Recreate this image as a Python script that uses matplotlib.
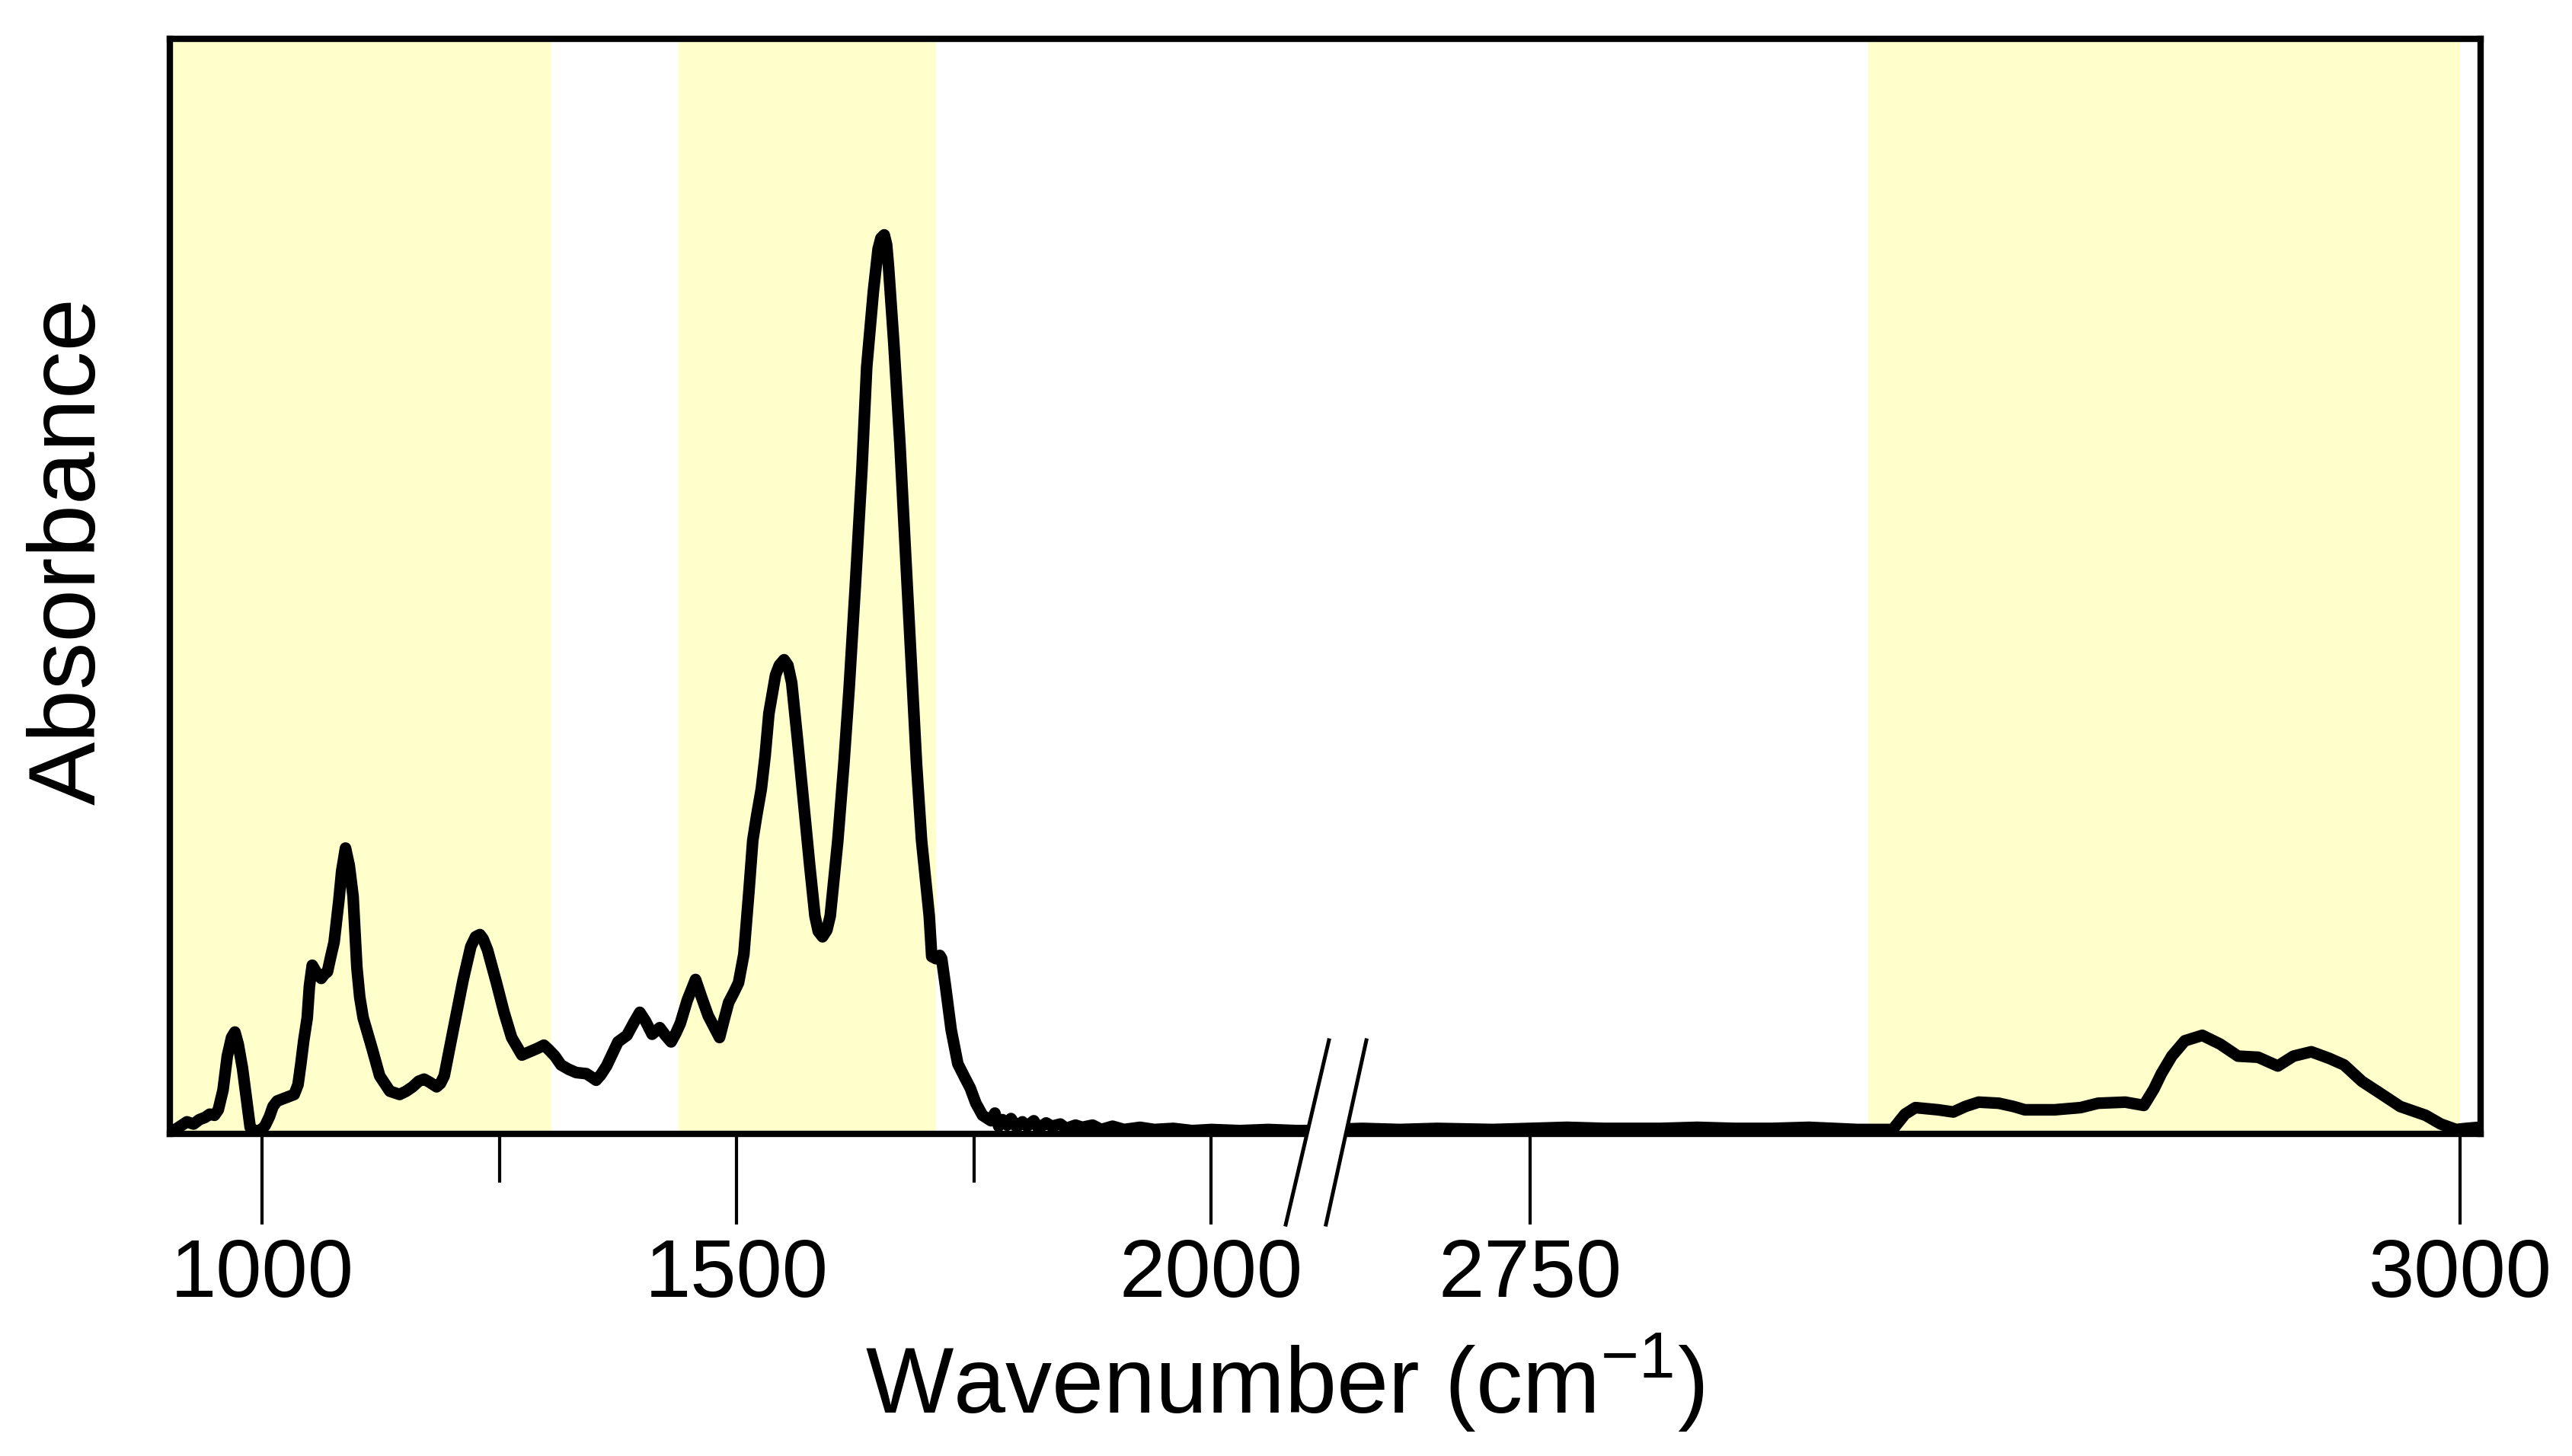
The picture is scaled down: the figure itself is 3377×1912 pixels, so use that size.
import numpy as np
import matplotlib
matplotlib.use("Agg")
import matplotlib.pyplot as plt
from matplotlib.ticker import FixedLocator, NullLocator, NullFormatter, FixedFormatter
from matplotlib.patches import Polygon
from matplotlib.lines import Line2D

plt.rcParams['font.family'] = ['Liberation Sans', 'DejaVu Sans']
plt.rcParams['mathtext.fontset'] = 'custom'
plt.rcParams['mathtext.rm'] = 'Liberation Sans'
plt.rcParams['mathtext.it'] = 'Liberation Sans'


# spectrum, low wavenumber part (left of the axis break)
left_wn = [903, 907, 914, 921, 928, 934, 940, 945, 950, 954, 959, 963.5, 968, 971.5, 975,
           979.5, 984, 987.6, 992, 995.6, 1000, 1003.6, 1008, 1011.6, 1016, 1022, 1028, 1034,
           1038, 1041, 1044, 1047.7, 1050, 1053, 1057, 1062.4, 1066, 1069, 1072, 1076, 1081,
           1084, 1088, 1092, 1096, 1100, 1103, 1106.6, 1116, 1124, 1134.7, 1145, 1152, 1158.7,
           1165, 1170.8, 1177, 1184, 1188, 1192, 1201.5, 1212, 1220, 1225, 1229.6, 1233, 1237.6,
           1247, 1255, 1263, 1273.8, 1284.5, 1290, 1297, 1302, 1308.6, 1315, 1323, 1331, 1341.7,
           1347, 1352, 1357, 1363, 1375, 1384.5, 1392, 1398, 1404, 1411, 1419, 1425, 1431, 1436,
           1440.7, 1448, 1456.7, 1463, 1470, 1476, 1482, 1487, 1491.6, 1497, 1502, 1507.6, 1513,
           1517, 1521, 1526, 1530, 1534, 1541, 1545, 1550, 1554, 1558, 1564, 1570.5, 1577,
           1582.5, 1586, 1590.5, 1595, 1598.6, 1606.6, 1613, 1618.6, 1625, 1632, 1637, 1644,
           1649, 1652, 1655.5, 1658, 1660, 1665.5, 1672, 1677.5, 1684, 1689.5, 1694.8, 1702.9,
           1705.5, 1710, 1714, 1716, 1720, 1726, 1733, 1740, 1746, 1752, 1759, 1768, 1772, 1776,
           1780, 1785, 1789, 1795, 1801, 1806, 1813, 1818, 1826, 1832, 1841, 1847, 1857, 1864,
           1875, 1884, 1896, 1908, 1925, 1940, 1960, 1980, 2000, 2030, 2060, 2090, 2120]
left_abs = [0.004, 0.003, 0.007, 0.011, 0.009, 0.013, 0.015, 0.018, 0.017, 0.022, 0.040, 0.071,
            0.088, 0.093, 0.082, 0.060, 0.030, 0.006, 0.002, 0.003, 0.004, 0.008, 0.016, 0.025,
            0.030, 0.032, 0.034, 0.036, 0.045, 0.064, 0.085, 0.106, 0.135, 0.154, 0.148, 0.142,
            0.146, 0.148, 0.160, 0.175, 0.213, 0.240, 0.261, 0.245, 0.217, 0.152, 0.125, 0.106,
            0.078, 0.053, 0.039, 0.036, 0.039, 0.043, 0.048, 0.050, 0.047, 0.043, 0.046, 0.053,
            0.095, 0.141, 0.171, 0.180, 0.182, 0.178, 0.168, 0.138, 0.111, 0.088, 0.072, 0.076,
            0.078, 0.081, 0.077, 0.071, 0.063, 0.059, 0.056, 0.055, 0.052, 0.049, 0.054, 0.062,
            0.084, 0.090, 0.102, 0.111, 0.103, 0.091, 0.097, 0.090, 0.084, 0.092, 0.101, 0.122,
            0.141, 0.125, 0.108, 0.098, 0.088, 0.105, 0.120, 0.129, 0.138, 0.164, 0.222, 0.268,
            0.290, 0.315, 0.345, 0.384, 0.419, 0.428, 0.433, 0.428, 0.412, 0.361, 0.303, 0.245,
            0.199, 0.185, 0.180, 0.186, 0.199, 0.268, 0.338, 0.408, 0.500, 0.607, 0.700, 0.769,
            0.808, 0.818, 0.821, 0.812, 0.792, 0.723, 0.630, 0.537, 0.430, 0.338, 0.268, 0.199,
            0.162, 0.160, 0.163, 0.160, 0.135, 0.095, 0.064, 0.052, 0.042, 0.028, 0.017, 0.012,
            0.019, 0.007, 0.013, 0.008, 0.014, 0.006, 0.011, 0.007, 0.012, 0.005, 0.010, 0.007,
            0.009, 0.005, 0.008, 0.006, 0.008, 0.004, 0.007, 0.004, 0.006, 0.004, 0.005, 0.003,
            0.004, 0.003, 0.004, 0.003, 0.003]

# spectrum, C-H stretch part (right of the break)
right_wn = [2695, 2705, 2715, 2725, 2740, 2750, 2760, 2770, 2785, 2795, 2805, 2815, 2825, 2838,
            2847.5, 2850.8, 2853.6, 2859.7, 2863.8, 2867, 2870.6, 2876, 2880, 2883, 2891, 2898,
            2902.7, 2910, 2915, 2917.7, 2919.7, 2922.5, 2926, 2930.7, 2935.5, 2940.3, 2945.7,
            2951, 2955.2, 2960, 2964.8, 2968.8, 2973.6, 2979, 2983.9, 2990.7, 2994.8, 2998.9,
            3001.6, 3005]
right_abs = [0.004, 0.005, 0.004, 0.005, 0.004, 0.005, 0.006, 0.005, 0.005, 0.006, 0.005, 0.005,
             0.006, 0.004, 0.004, 0.018, 0.024, 0.022, 0.020, 0.025, 0.029, 0.028, 0.025, 0.022,
             0.022, 0.024, 0.028, 0.029, 0.026, 0.041, 0.055, 0.071, 0.085, 0.090, 0.082, 0.071,
             0.070, 0.062, 0.071, 0.075, 0.069, 0.063, 0.048, 0.036, 0.025, 0.017, 0.009, 0.004,
             0.005, 0.006]

# shaded regions
band_starts = [903, 1439, 2841]
band_ends = [1305, 1710, 3000]

major_ticks = [1000, 1500, 2000, 2750, 3000]
major_labels = ['1000', '1500', '2000', '2750', '3000']
minor_ticks = [1250, 1750]

# broken axis: [903, 2120] on the left half, [2695, 3005.5] on the right half
seg_wn = [903, 2120, 2695, 3005.5]
seg_pos = [0.0, 0.5, 0.5000001, 1.0]


def forward(x):
    return np.interp(x, seg_wn, seg_pos)


def inverse(u):
    return np.interp(u, seg_pos, seg_wn)


fig = plt.figure(figsize=(16.885, 9.56), dpi=200)
ax = fig.add_axes([0.06604, 0.22123, 0.89843, 0.75209])
ax.set_xscale('function', functions=(forward, inverse))
ax.set_xlim(903, 3005.5)
ax.set_ylim(0, 1.0)

for s, e in zip(band_starts, band_ends):
    ax.axvspan(s, e, color='#ffffcc', lw=0, zorder=0)

ax.plot(left_wn, left_abs, color='black', lw=5.5, solid_joinstyle='round', zorder=2)
ax.plot(right_wn, right_abs, color='black', lw=5.5, solid_joinstyle='round', zorder=2)

for sp in ax.spines.values():
    sp.set_linewidth(3.0)

ax.xaxis.set_major_locator(FixedLocator(major_ticks))
ax.xaxis.set_major_formatter(FixedFormatter(major_labels))
ax.xaxis.set_minor_locator(FixedLocator(minor_ticks))
ax.xaxis.set_minor_formatter(NullFormatter())
ax.tick_params(axis='x', which='major', direction='out', length=43, width=1.5,
               labelsize=39, pad=6)
ax.tick_params(axis='x', which='minor', direction='out', length=23, width=1.5)
ax.yaxis.set_major_locator(NullLocator())
ax.yaxis.set_minor_locator(NullLocator())

ax.set_xlabel('Wavenumber (cm$^{-1}$)', fontsize=44)
ax.xaxis.set_label_coords(0.4825, -0.18)
ax.set_ylabel('Absorbance', fontsize=45)
ax.yaxis.set_label_coords(-0.024, 0.532)

# break marker on the bottom axis
tr = ax.transAxes
p1 = [(0.4829, -0.0828), (0.5016, 0.0855)]
p2 = [(0.5003, -0.0828), (0.5178, 0.0855)]
ax.add_patch(Polygon([p1[0], p1[1], p2[1], p2[0]], closed=True, transform=tr,
                     facecolor='white', edgecolor='none', clip_on=False, zorder=5))
for p in (p1, p2):
    ax.add_line(Line2D([p[0][0], p[1][0]], [p[0][1], p[1][1]], transform=tr,
                       color='black', lw=1.8, clip_on=False, zorder=6))

fig.savefig('out.png', dpi=200)
